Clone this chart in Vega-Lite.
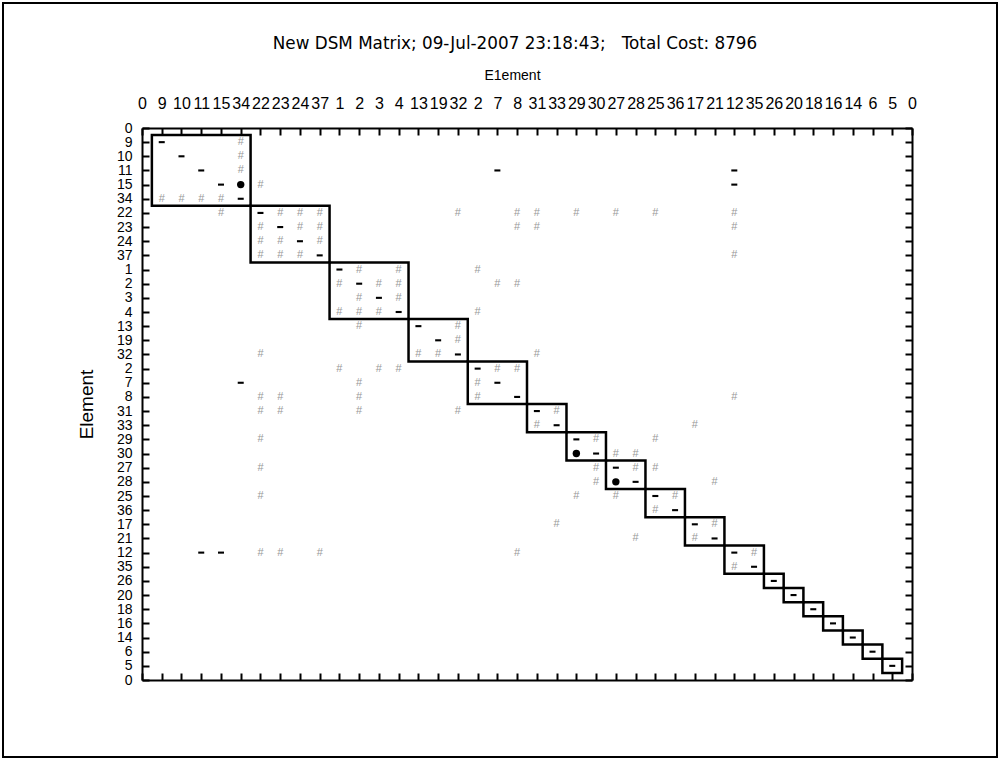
{
  "$schema": "https://vega.github.io/schema/vega-lite/v6.json",
  "width": 994,
  "height": 754,
  "padding": 3,
  "autosize": {"type": "none"},
  "background": "white",
  "view": {"stroke": "black", "strokeWidth": 2},
  "title": {"text": "New DSM Matrix; 09-Jul-2007 23:18:43;\u00a0\u00a0 Total Cost: 8796", "offset": -50, "dx": 15, "fontSize": 16.8, "fontWeight": "normal", "font": "DejaVu Sans", "anchor": "middle", "color": "black"},
  "datasets": {
    "blocks": [
      {"lo": 0.5, "hi": 5.5}, {"lo": 5.5, "hi": 9.5}, {"lo": 9.5, "hi": 13.5}, {"lo": 13.5, "hi": 16.5},
      {"lo": 16.5, "hi": 19.5}, {"lo": 19.5, "hi": 21.5}, {"lo": 21.5, "hi": 23.5}, {"lo": 23.5, "hi": 25.5},
      {"lo": 25.5, "hi": 27.5}, {"lo": 27.5, "hi": 29.5}, {"lo": 29.5, "hi": 31.5}, {"lo": 31.5, "hi": 32.5},
      {"lo": 32.5, "hi": 33.5}, {"lo": 33.5, "hi": 34.5}, {"lo": 34.5, "hi": 35.5}, {"lo": 35.5, "hi": 36.5},
      {"lo": 36.5, "hi": 37.5}, {"lo": 37.5, "hi": 38.5}
    ],
    "weak": [
      {"row": 1, "col": 5}, {"row": 2, "col": 5}, {"row": 3, "col": 5}, {"row": 5, "col": 1}, {"row": 5, "col": 2},
      {"row": 5, "col": 3}, {"row": 5, "col": 4}, {"row": 4, "col": 6}, {"row": 6, "col": 4},
      {"row": 6, "col": 7}, {"row": 6, "col": 8}, {"row": 6, "col": 9}, {"row": 7, "col": 6}, {"row": 7, "col": 8},
      {"row": 7, "col": 9}, {"row": 8, "col": 6}, {"row": 8, "col": 7}, {"row": 8, "col": 9}, {"row": 9, "col": 6},
      {"row": 9, "col": 7}, {"row": 9, "col": 8},
      {"row": 10, "col": 11}, {"row": 10, "col": 13}, {"row": 11, "col": 10}, {"row": 11, "col": 12}, {"row": 11, "col": 13},
      {"row": 12, "col": 11}, {"row": 12, "col": 13}, {"row": 13, "col": 10}, {"row": 13, "col": 11}, {"row": 13, "col": 12},
      {"row": 14, "col": 11},
      {"row": 14, "col": 16}, {"row": 15, "col": 16}, {"row": 16, "col": 14}, {"row": 16, "col": 15},
      {"row": 17, "col": 18}, {"row": 17, "col": 19}, {"row": 18, "col": 17}, {"row": 19, "col": 17},
      {"row": 16, "col": 20}, {"row": 20, "col": 16}, {"row": 16, "col": 6}, {"row": 17, "col": 10}, {"row": 17, "col": 12},
      {"row": 17, "col": 13}, {"row": 18, "col": 11}, {"row": 19, "col": 6}, {"row": 19, "col": 7}, {"row": 19, "col": 11},
      {"row": 20, "col": 6}, {"row": 20, "col": 7}, {"row": 20, "col": 11}, {"row": 22, "col": 6}, {"row": 24, "col": 6},
      {"row": 26, "col": 6}, {"row": 30, "col": 6}, {"row": 30, "col": 7}, {"row": 30, "col": 9}, {"row": 30, "col": 19},
      {"row": 20, "col": 21}, {"row": 21, "col": 20}, {"row": 21, "col": 28},
      {"row": 6, "col": 16}, {"row": 6, "col": 19}, {"row": 6, "col": 20}, {"row": 6, "col": 22}, {"row": 6, "col": 24},
      {"row": 6, "col": 26}, {"row": 6, "col": 30}, {"row": 7, "col": 19}, {"row": 7, "col": 20}, {"row": 7, "col": 30},
      {"row": 9, "col": 30}, {"row": 19, "col": 30},
      {"row": 10, "col": 17}, {"row": 11, "col": 18}, {"row": 11, "col": 19}, {"row": 13, "col": 17},
      {"row": 22, "col": 23}, {"row": 22, "col": 26}, {"row": 23, "col": 24}, {"row": 23, "col": 25},
      {"row": 24, "col": 25}, {"row": 24, "col": 23}, {"row": 24, "col": 26}, {"row": 25, "col": 23}, {"row": 26, "col": 22},
      {"row": 26, "col": 24}, {"row": 26, "col": 27}, {"row": 27, "col": 26}, {"row": 25, "col": 29},
      {"row": 28, "col": 29}, {"row": 29, "col": 28}, {"row": 28, "col": 21}, {"row": 29, "col": 25},
      {"row": 30, "col": 31}, {"row": 31, "col": 30}
    ],
    "strong": [
      {"row": 1, "col": 1, "kind": "dash"}, {"row": 2, "col": 2, "kind": "dash"}, {"row": 3, "col": 3, "kind": "dash"},
      {"row": 4, "col": 4, "kind": "dash"}, {"row": 5, "col": 5, "kind": "dash"}, {"row": 6, "col": 6, "kind": "dash"},
      {"row": 7, "col": 7, "kind": "dash"}, {"row": 8, "col": 8, "kind": "dash"}, {"row": 9, "col": 9, "kind": "dash"},
      {"row": 10, "col": 10, "kind": "dash"}, {"row": 11, "col": 11, "kind": "dash"}, {"row": 12, "col": 12, "kind": "dash"},
      {"row": 13, "col": 13, "kind": "dash"}, {"row": 14, "col": 14, "kind": "dash"}, {"row": 15, "col": 15, "kind": "dash"},
      {"row": 16, "col": 16, "kind": "dash"}, {"row": 17, "col": 17, "kind": "dash"}, {"row": 18, "col": 18, "kind": "dash"},
      {"row": 19, "col": 19, "kind": "dash"}, {"row": 20, "col": 20, "kind": "dash"}, {"row": 21, "col": 21, "kind": "dash"},
      {"row": 22, "col": 22, "kind": "dash"}, {"row": 23, "col": 23, "kind": "dash"}, {"row": 24, "col": 24, "kind": "dash"},
      {"row": 25, "col": 25, "kind": "dash"}, {"row": 26, "col": 26, "kind": "dash"}, {"row": 27, "col": 27, "kind": "dash"},
      {"row": 28, "col": 28, "kind": "dash"}, {"row": 29, "col": 29, "kind": "dash"}, {"row": 30, "col": 30, "kind": "dash"},
      {"row": 31, "col": 31, "kind": "dash"}, {"row": 32, "col": 32, "kind": "dash"}, {"row": 33, "col": 33, "kind": "dash"},
      {"row": 34, "col": 34, "kind": "dash"}, {"row": 35, "col": 35, "kind": "dash"}, {"row": 36, "col": 36, "kind": "dash"},
      {"row": 37, "col": 37, "kind": "dash"}, {"row": 38, "col": 38, "kind": "dash"},
      {"row": 3, "col": 18, "kind": "dash"}, {"row": 18, "col": 5, "kind": "dash"}, {"row": 30, "col": 3, "kind": "dash"},
      {"row": 30, "col": 4, "kind": "dash"}, {"row": 3, "col": 30, "kind": "dash"}, {"row": 4, "col": 30, "kind": "dash"},
      {"row": 4, "col": 5, "kind": "dot"}, {"row": 23, "col": 22, "kind": "dot"}, {"row": 25, "col": 24, "kind": "dot"}
    ]
  },
  "layer": [
    {
      "data": {"name": "blocks"},
      "mark": {"type": "rect", "fillOpacity": 0, "stroke": "black", "strokeWidth": 2.5},
      "encoding": {
        "x": {"field": "lo", "type": "quantitative",
          "scale": {"domain": [0, 39], "range": [139, 909], "nice": false, "zero": false},
          "axis": {"orient": "top", "offset": -125, "values": [0,1,2,3,4,5,6,7,8,9,10,11,12,13,14,15,16,17,18,19,20,21,22,23,24,25,26,27,28,29,30,31,32,33,34,35,36,37,38,39],
            "labelExpr": "['0','9','10','11','15','34','22','23','24','37','1','2','3','4','13','19','32','2','7','8','31','33','29','30','27','28','25','36','17','21','12','35','26','20','18','16','14','6','5','0'][datum.value]",
            "ticks": false, "grid": false, "domain": true, "domainColor": "black", "domainWidth": 2,
            "labelFont": "Liberation Sans", "labelFontSize": 16, "labelColor": "black", "labelPadding": 17,
            "labelAngle": 0, "labelOverlap": false, "labelFlush": false,
            "title": "E1ement", "titleX": 509, "titleFont": "Liberation Sans", "titleFontSize": 14, "titleFontWeight": "normal", "titleColor": "black", "titlePadding": 13}},
        "x2": {"field": "hi"},
        "y": {"field": "lo", "type": "quantitative",
          "scale": {"domain": [0, 39], "range": [125, 677], "nice": false, "zero": false},
          "axis": {"orient": "left", "offset": -139, "values": [0,1,2,3,4,5,6,7,8,9,10,11,12,13,14,15,16,17,18,19,20,21,22,23,24,25,26,27,28,29,30,31,32,33,34,35,36,37,38,39],
            "labelExpr": "['0','9','10','11','15','34','22','23','24','37','1','2','3','4','13','19','32','2','7','8','31','33','29','30','27','28','25','36','17','21','12','35','26','20','18','16','14','6','5','0'][datum.value]",
            "ticks": false, "grid": false, "domain": true, "domainColor": "black", "domainWidth": 2,
            "labelFont": "Liberation Sans", "labelFontSize": 14, "labelColor": "black", "labelPadding": 10,
            "labelOverlap": false, "labelFlush": false,
            "title": "Element", "titleFont": "Liberation Sans", "titleFontSize": 19, "titleFontWeight": "normal", "titleColor": "black", "titlePadding": 20}},
        "y2": {"field": "hi"}
      }
    },
    {
      "data": {"name": "weak"},
      "mark": {"type": "text", "text": "#", "color": "#999999", "fontSize": 11, "font": "Liberation Sans", "align": "center", "baseline": "middle"},
      "encoding": {
        "x": {"field": "col", "type": "quantitative",
          "scale": {"domain": [0, 39], "range": [139, 909], "nice": false, "zero": false},
          "axis": {"orient": "bottom", "offset": -629, "values": [0,1,2,3,4,5,6,7,8,9,10,11,12,13,14,15,16,17,18,19,20,21,22,23,24,25,26,27,28,29,30,31,32,33,34,35,36,37,38,39],
            "labels": false, "domain": false, "grid": false, "ticks": true, "tickSize": 7, "tickWidth": 2, "tickColor": "black", "title": null}},
        "y": {"field": "row", "type": "quantitative",
          "scale": {"domain": [0, 39], "range": [125, 677], "nice": false, "zero": false},
          "axis": {"orient": "right", "offset": -855, "values": [0,1,2,3,4,5,6,7,8,9,10,11,12,13,14,15,16,17,18,19,20,21,22,23,24,25,26,27,28,29,30,31,32,33,34,35,36,37,38,39],
            "labels": false, "domain": false, "grid": false, "ticks": true, "tickSize": 7, "tickWidth": 2, "tickColor": "black", "title": null}}
      }
    },
    {
      "data": {"name": "strong"},
      "mark": {"type": "point", "filled": true, "color": "black", "opacity": 1},
      "encoding": {
        "x": {"field": "col", "type": "quantitative",
          "scale": {"domain": [0, 39], "range": [139, 909], "nice": false, "zero": false},
          "axis": {"orient": "top", "offset": -677, "values": [0,1,2,3,4,5,6,7,8,9,10,11,12,13,14,15,16,17,18,19,20,21,22,23,24,25,26,27,28,29,30,31,32,33,34,35,36,37,38,39],
            "labels": false, "domain": true, "domainColor": "black", "domainWidth": 2, "grid": false, "ticks": true, "tickSize": 7, "tickWidth": 2, "tickColor": "black", "title": null}},
        "y": {"field": "row", "type": "quantitative",
          "scale": {"domain": [0, 39], "range": [125, 677], "nice": false, "zero": false},
          "axis": {"orient": "left", "offset": -909, "values": [0,1,2,3,4,5,6,7,8,9,10,11,12,13,14,15,16,17,18,19,20,21,22,23,24,25,26,27,28,29,30,31,32,33,34,35,36,37,38,39],
            "labels": false, "domain": true, "domainColor": "black", "domainWidth": 2, "grid": false, "ticks": true, "tickSize": 7, "tickWidth": 2, "tickColor": "black", "title": null}},
        "shape": {"field": "kind", "type": "nominal", "scale": {"domain": ["dash", "dot"], "range": ["M-1,-0.35H1V0.35H-1Z", "circle"]}, "legend": null},
        "size": {"field": "kind", "type": "nominal", "scale": {"domain": ["dash", "dot"], "range": [36, 55]}, "legend": null}
      }
    }
  ],
  "resolve": {"axis": {"x": "independent", "y": "independent"}}
}
